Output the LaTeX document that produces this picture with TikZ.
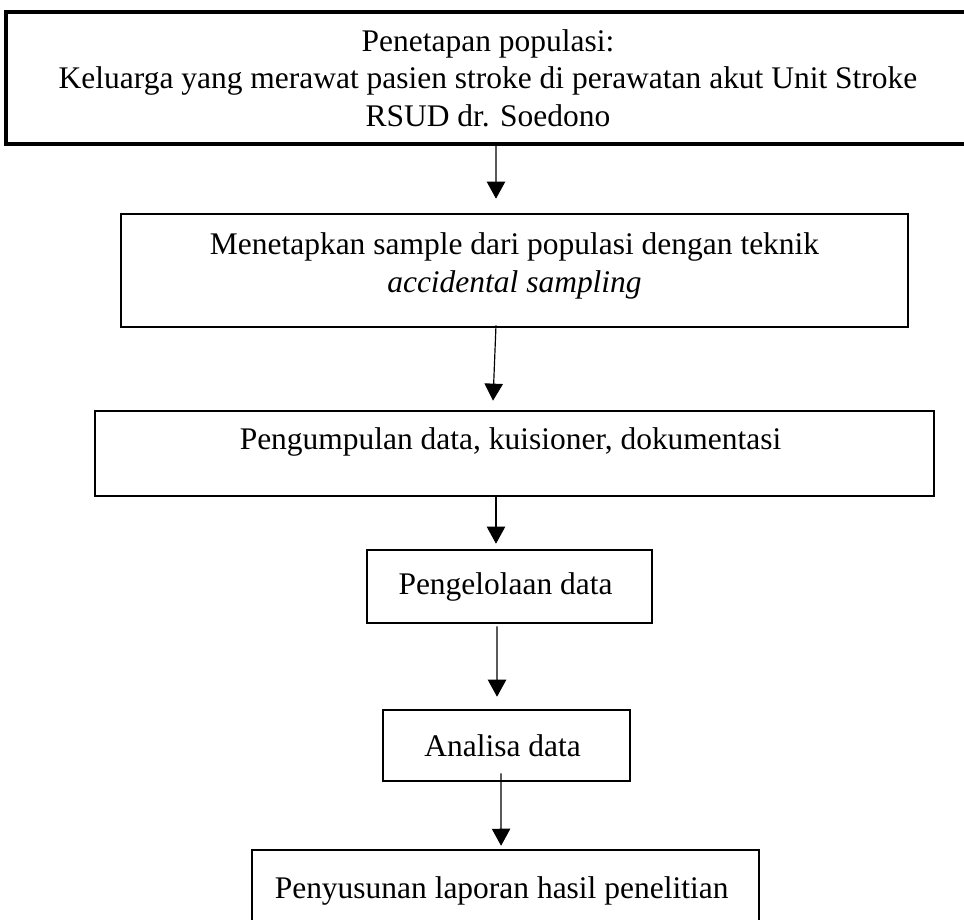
\documentclass[tikz,border=0pt]{standalone}
\usepackage{fontspec}
\setmainfont{Liberation Serif}
\usetikzlibrary{arrows.meta,positioning}
\tikzset{
    block/.style={
           rectangle,
           draw=black,
           line width=1pt,
           inner sep=0pt,
           align=center,
           text centered,
           font=\fontsize{12}{14.3}\selectfont,
           },
}

\begin{document}
\begin{tikzpicture}[->,>={Triangle[width=7pt,length=6.5pt]},line width=0.45pt]
\useasboundingbox (-6.539,1.045) rectangle (6.378,-11.269);
\node[block,minimum width=12.918cm,minimum height=1.769cm,line width=1.2pt](populasi){
  Penetapan populasi:\\
  Keluarga yang merawat pasien stroke di perawatan akut Unit Stroke\\
  RSUD dr. Soedono
};
\node[block,below of=populasi,node distance=2.58cm,xshift=0.355cm,
      minimum width=10.546cm,minimum height=1.514cm,text depth=0.22cm](sampel){
  Menetapkan sample dari populasi dengan teknik\\
  \textit{accidental sampling}
};
\node[block,below of=sampel,node distance=2.452cm,
      minimum width=11.243cm,minimum height=1.139cm,text depth=0.4cm](kumpul){
  Pengumpulan data, kuisioner, dokumentasi
};
\node[block,below of=kumpul,node distance=1.782cm,xshift=-0.067cm,
      minimum width=3.819cm,minimum height=0.978cm](kelola){
  Pengelolaan data
};
\node[block,below of=kelola,node distance=2.131cm,xshift=-0.04cm,
      minimum width=3.31cm,minimum height=0.951cm](analisa){
  Analisa data
};
\node[block,below of=analisa,node distance=1.95cm,xshift=-0.013cm,
      minimum width=6.794cm,minimum height=1.099cm](laporan){
  Penyusunan laporan hasil penelitian
};
\draw ([xshift=0.107cm]populasi.south) -- ([xshift=-0.248cm,yshift=0.188cm]sampel.north);
\draw ([xshift=-0.248cm,yshift=0.04cm]sampel.south) -- ([xshift=-0.288cm,yshift=0.121cm]kumpul.north);
\draw ([xshift=-0.248cm]kumpul.south) -- ([xshift=-0.181cm,yshift=0.067cm]kelola.north);
\draw ([xshift=-0.168cm,yshift=-0.027cm]kelola.south) -- ([xshift=-0.127cm,yshift=0.161cm]analisa.north);
\draw ([xshift=-0.074cm,yshift=0.121cm]analisa.south) -- ([xshift=-0.06cm,yshift=0.04cm]laporan.north);
\end{tikzpicture}
\end{document}
